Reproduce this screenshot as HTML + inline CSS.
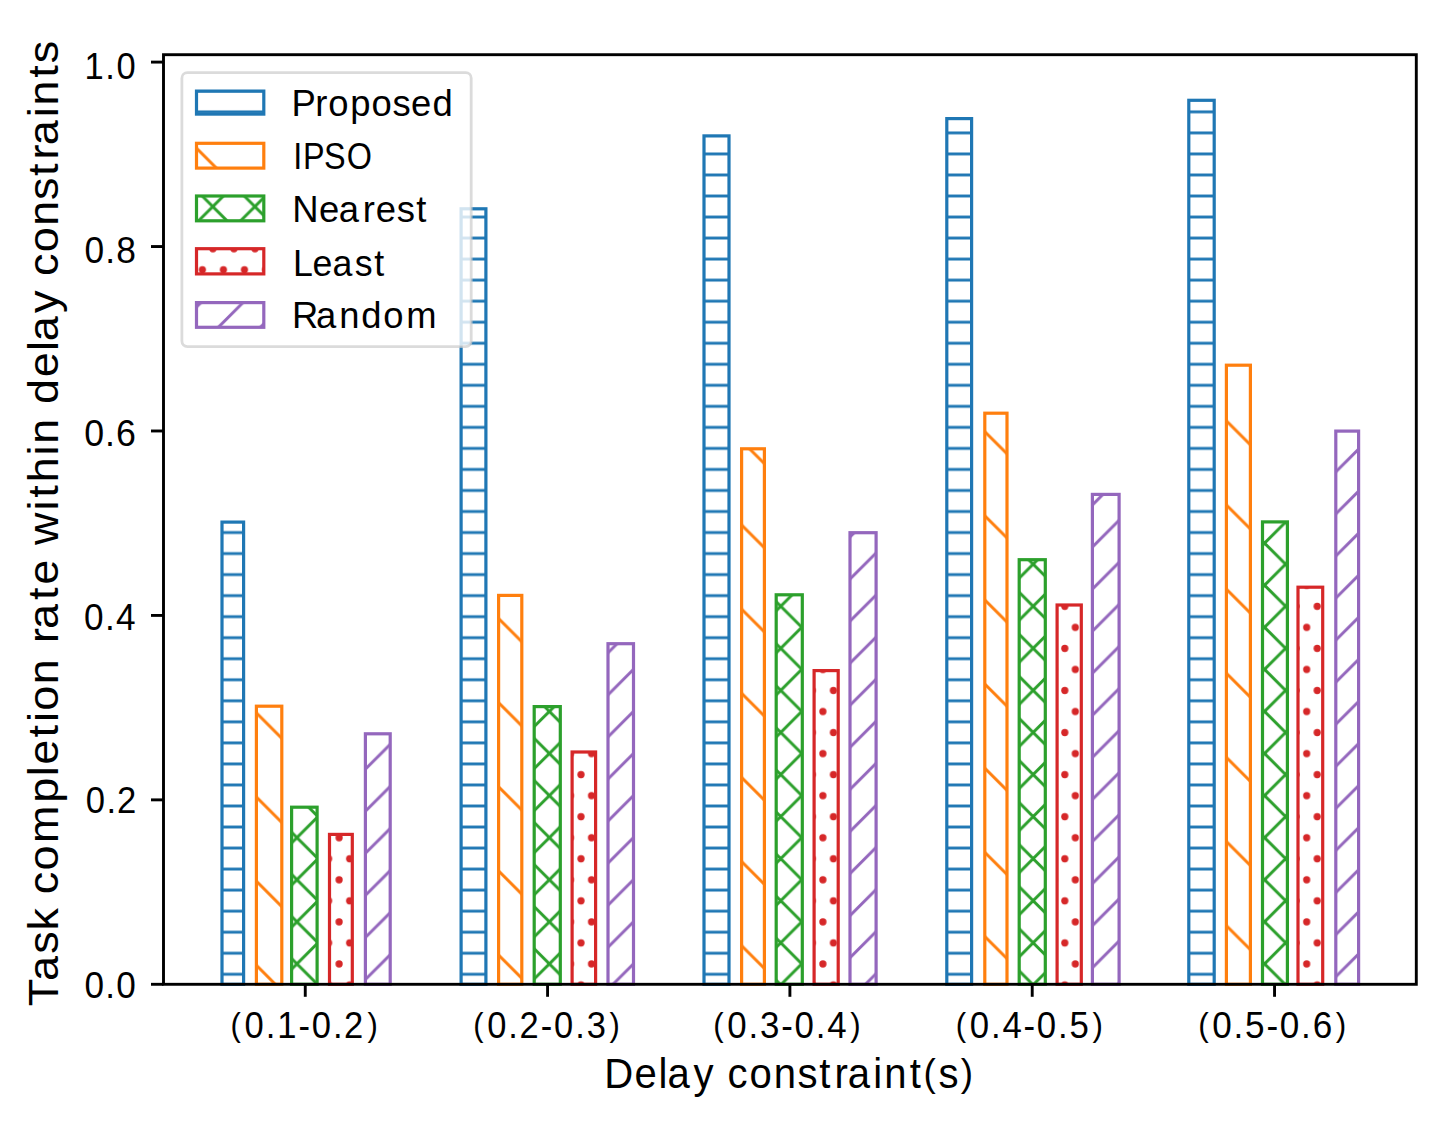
<!DOCTYPE html>
<html><head><meta charset="utf-8"><title>Task completion rate chart</title>
<style>
html,body{margin:0;padding:0;background:#fff;}
body{width:1455px;height:1130px;overflow:hidden;font-family:"Liberation Sans",sans-serif;}
svg{display:block;}
</style></head>
<body>
<svg width="1455" height="1130" viewBox="0 0 1455 1130"><defs><pattern id="hb" patternUnits="userSpaceOnUse" x="0" y="0" width="21.034" height="21.034"><path d="M-5,6.73H26.034" stroke="#1f77b4" stroke-width="3.0"/></pattern><pattern id="ho" patternUnits="userSpaceOnUse" x="0" y="0" width="84.14" height="84.14"><path d="M-288.26,-84.14L-35.84,168.28M-204.12,-84.14L48.30,168.28M-119.98,-84.14L132.44,168.28M-35.84,-84.14L216.58,168.28M48.30,-84.14L300.72,168.28M132.44,-84.14L384.86,168.28M216.58,-84.14L469.00,168.28" stroke="#ff7f0e" stroke-width="3.0"/></pattern><pattern id="hg" patternUnits="userSpaceOnUse" x="0" y="0" width="42.07" height="42.07"><path d="M-43.34,-42.07L-169.55,84.14M-1.27,-42.07L-127.48,84.14M40.80,-42.07L-85.41,84.14M82.87,-42.07L-43.34,84.14M124.94,-42.07L-1.27,84.14M167.01,-42.07L40.80,84.14M209.08,-42.07L82.87,84.14M-162.08,-42.07L-35.87,84.14M-120.01,-42.07L6.20,84.14M-77.94,-42.07L48.27,84.14M-35.87,-42.07L90.34,84.14M6.20,-42.07L132.41,84.14M48.27,-42.07L174.48,84.14M90.34,-42.07L216.55,84.14" stroke="#2ca02c" stroke-width="3.0"/></pattern><pattern id="hr" patternUnits="userSpaceOnUse" x="2.58" y="38.42" width="21.034" height="42.07"><g fill="#d62728"><circle cx="0.00" cy="0.00" r="3.6"/><circle cx="21.03" cy="0.00" r="3.6"/><circle cx="0.00" cy="42.07" r="3.6"/><circle cx="21.03" cy="42.07" r="3.6"/><circle cx="10.52" cy="21.03" r="3.6"/></g></pattern><pattern id="hp" patternUnits="userSpaceOnUse" x="0" y="0" width="42.07" height="42.07"><path d="M-43.34,-42.07L-169.55,84.14M-1.27,-42.07L-127.48,84.14M40.80,-42.07L-85.41,84.14M82.87,-42.07L-43.34,84.14M124.94,-42.07L-1.27,84.14M167.01,-42.07L40.80,84.14M209.08,-42.07L82.87,84.14" stroke="#9467bd" stroke-width="3.0"/></pattern><filter id="bl" x="0" y="0" width="1455" height="1130" filterUnits="userSpaceOnUse"><feGaussianBlur stdDeviation="0"/></filter></defs><rect width="1455" height="1130" fill="#fff"/><g font-family="Liberation Sans, sans-serif" fill="#000"><rect x="222.00" y="522.10" width="21.60" height="462.20" fill="url(#hb)" stroke="#1f77b4" stroke-width="3.2"/>
<rect x="461.10" y="208.80" width="24.80" height="775.50" fill="url(#hb)" stroke="#1f77b4" stroke-width="3.2"/>
<rect x="704.00" y="135.90" width="25.00" height="848.40" fill="url(#hb)" stroke="#1f77b4" stroke-width="3.2"/>
<rect x="946.80" y="118.60" width="24.80" height="865.70" fill="url(#hb)" stroke="#1f77b4" stroke-width="3.2"/>
<rect x="1188.80" y="100.30" width="25.40" height="884.00" fill="url(#hb)" stroke="#1f77b4" stroke-width="3.2"/>
<rect x="256.40" y="706.20" width="25.40" height="278.10" fill="url(#ho)" stroke="#ff7f0e" stroke-width="3.2"/>
<rect x="498.60" y="595.40" width="23.20" height="388.90" fill="url(#ho)" stroke="#ff7f0e" stroke-width="3.2"/>
<rect x="741.60" y="448.80" width="22.80" height="535.50" fill="url(#ho)" stroke="#ff7f0e" stroke-width="3.2"/>
<rect x="984.80" y="413.20" width="22.20" height="571.10" fill="url(#ho)" stroke="#ff7f0e" stroke-width="3.2"/>
<rect x="1226.40" y="365.20" width="24.00" height="619.10" fill="url(#ho)" stroke="#ff7f0e" stroke-width="3.2"/>
<rect x="291.60" y="807.20" width="25.50" height="177.10" fill="url(#hg)" stroke="#2ca02c" stroke-width="3.2"/>
<rect x="534.20" y="706.60" width="26.10" height="277.70" fill="url(#hg)" stroke="#2ca02c" stroke-width="3.2"/>
<rect x="776.20" y="594.80" width="26.10" height="389.50" fill="url(#hg)" stroke="#2ca02c" stroke-width="3.2"/>
<rect x="1019.20" y="559.70" width="26.10" height="424.60" fill="url(#hg)" stroke="#2ca02c" stroke-width="3.2"/>
<rect x="1262.50" y="521.90" width="24.90" height="462.40" fill="url(#hg)" stroke="#2ca02c" stroke-width="3.2"/>
<rect x="329.50" y="834.40" width="22.80" height="149.90" fill="url(#hr)" stroke="#d62728" stroke-width="3.2"/>
<rect x="572.10" y="752.00" width="23.50" height="232.30" fill="url(#hr)" stroke="#d62728" stroke-width="3.2"/>
<rect x="814.10" y="670.60" width="24.10" height="313.70" fill="url(#hr)" stroke="#d62728" stroke-width="3.2"/>
<rect x="1057.10" y="605.00" width="24.20" height="379.30" fill="url(#hr)" stroke="#d62728" stroke-width="3.2"/>
<rect x="1298.00" y="587.20" width="24.70" height="397.10" fill="url(#hr)" stroke="#d62728" stroke-width="3.2"/>
<rect x="365.40" y="733.80" width="24.80" height="250.50" fill="url(#hp)" stroke="#9467bd" stroke-width="3.2"/>
<rect x="608.00" y="643.70" width="25.50" height="340.60" fill="url(#hp)" stroke="#9467bd" stroke-width="3.2"/>
<rect x="850.00" y="532.70" width="26.10" height="451.60" fill="url(#hp)" stroke="#9467bd" stroke-width="3.2"/>
<rect x="1092.40" y="494.40" width="26.70" height="489.90" fill="url(#hp)" stroke="#9467bd" stroke-width="3.2"/>
<rect x="1335.80" y="431.10" width="22.80" height="553.20" fill="url(#hp)" stroke="#9467bd" stroke-width="3.2"/>
<rect x="163.5" y="54.7" width="1252.80" height="929.60" fill="none" stroke="#000" stroke-width="2.9"/>
<path d="M151.00,984.30H163.5" stroke="#000" stroke-width="2.9"/>
<text transform="translate(85.85,997.80) scale(0.9640,1)" x="-1.45 20.10 31.51" y="0" font-size="36.5">0.0</text>
<path d="M151.00,799.86H163.5" stroke="#000" stroke-width="2.9"/>
<text transform="translate(86.97,812.80) scale(0.9487,1)" x="-1.31 20.51 31.72" y="0" font-size="36.5">0.2</text>
<path d="M151.00,615.42H163.5" stroke="#000" stroke-width="2.9"/>
<text transform="translate(85.51,629.50) scale(0.9640,1)" x="-1.45 20.10 31.51" y="0" font-size="36.5">0.4</text>
<path d="M151.00,430.98H163.5" stroke="#000" stroke-width="2.9"/>
<text transform="translate(85.73,445.80) scale(0.9791,1)" x="-1.58 19.72 30.87" y="0" font-size="36.5">0.6</text>
<path d="M151.00,246.54H163.5" stroke="#000" stroke-width="2.9"/>
<text transform="translate(85.91,262.70) scale(0.9687,1)" x="-1.49 19.98 31.31" y="0" font-size="36.5">0.8</text>
<path d="M151.00,62.10H163.5" stroke="#000" stroke-width="2.9"/>
<text transform="translate(87.31,78.60) scale(0.9456,1)" x="-3.01 19.05 30.78" y="0" font-size="36.5">1.0</text>
<path d="M305.26,984.3V996.80" stroke="#000" stroke-width="2.9"/>
<text transform="translate(232.70,1038.40) scale(0.9483,1)" font-size="36.5"><tspan x="-2.29" y="-2.30" font-size="32.70">(</tspan><tspan x="12.44" y="0">0</tspan><tspan x="34.83" y="0">.</tspan><tspan x="46.91" y="0">1</tspan><tspan x="69.27" y="0">-</tspan><tspan x="83.29" y="0">0</tspan><tspan x="105.68" y="0">.</tspan><tspan x="117.45" y="0">2</tspan><tspan x="142.09" y="-2.30" font-size="32.70">)</tspan></text>
<path d="M547.58,984.3V996.80" stroke="#000" stroke-width="2.9"/>
<text transform="translate(475.50,1038.40) scale(0.9446,1)" font-size="36.5"><tspan x="-2.30" y="-2.30" font-size="32.70">(</tspan><tspan x="12.42" y="0">0</tspan><tspan x="34.79" y="0">.</tspan><tspan x="46.55" y="0">2</tspan><tspan x="69.19" y="0">-</tspan><tspan x="83.20" y="0">0</tspan><tspan x="105.57" y="0">.</tspan><tspan x="117.85" y="0">3</tspan><tspan x="141.95" y="-2.30" font-size="32.70">)</tspan></text>
<path d="M789.90,984.3V996.80" stroke="#000" stroke-width="2.9"/>
<text transform="translate(715.50,1038.40) scale(0.9556,1)" font-size="36.5"><tspan x="-2.33" y="-2.30" font-size="32.70">(</tspan><tspan x="12.27" y="0">0</tspan><tspan x="34.53" y="0">.</tspan><tspan x="46.69" y="0">3</tspan><tspan x="68.69" y="0">-</tspan><tspan x="82.57" y="0">0</tspan><tspan x="104.83" y="0">.</tspan><tspan x="116.94" y="0">4</tspan><tspan x="140.97" y="-2.30" font-size="32.70">)</tspan></text>
<path d="M1032.22,984.3V996.80" stroke="#000" stroke-width="2.9"/>
<text transform="translate(957.90,1038.40) scale(0.9529,1)" font-size="36.5"><tspan x="-2.31" y="-2.30" font-size="32.70">(</tspan><tspan x="12.33" y="0">0</tspan><tspan x="34.64" y="0">.</tspan><tspan x="46.80" y="0">4</tspan><tspan x="68.90" y="0">-</tspan><tspan x="82.83" y="0">0</tspan><tspan x="105.14" y="0">.</tspan><tspan x="117.17" y="0">5</tspan><tspan x="141.38" y="-2.30" font-size="32.70">)</tspan></text>
<path d="M1274.54,984.3V996.80" stroke="#000" stroke-width="2.9"/>
<text transform="translate(1200.50,1038.40) scale(0.9619,1)" font-size="36.5"><tspan x="-2.34" y="-2.30" font-size="32.70">(</tspan><tspan x="12.21" y="0">0</tspan><tspan x="34.43" y="0">.</tspan><tspan x="46.37" y="0">5</tspan><tspan x="68.51" y="0">-</tspan><tspan x="82.35" y="0">0</tspan><tspan x="104.57" y="0">.</tspan><tspan x="116.65" y="0">6</tspan><tspan x="140.62" y="-2.30" font-size="32.70">)</tspan></text>
<text transform="translate(607.50,1087.80) scale(0.9545,1)" font-size="42"><tspan x="-3.42" y="0">D</tspan><tspan x="28.25" y="0">e</tspan><tspan x="53.34" y="0">l</tspan><tspan x="62.93" y="0">a</tspan><tspan x="90.11" y="0">y</tspan><tspan x="113.29" y="0"> </tspan><tspan x="125.80" y="0">c</tspan><tspan x="148.73" y="0">o</tspan><tspan x="174.15" y="0">n</tspan><tspan x="199.01" y="0">s</tspan><tspan x="221.86" y="0">t</tspan><tspan x="237.94" y="0">r</tspan><tspan x="251.76" y="0">a</tspan><tspan x="278.43" y="0">i</tspan><tspan x="290.03" y="0">n</tspan><tspan x="316.54" y="0">t</tspan><tspan x="330.99" y="-2.20" font-size="38.64">(</tspan><tspan x="346.71" y="0">s</tspan><tspan x="369.99" y="-2.20" font-size="38.64">)</tspan></text>
<text transform="translate(57.50,1005.60) rotate(-90) scale(1.0718,1)" x="-0.67 23.06 48.34 70.00 92.05 103.99 126.17 151.67 189.30 214.04 224.69 250.19 264.67 275.16 299.76 324.26 338.20 351.43 378.46 392.63 416.77 429.78 461.89 473.79 488.27 513.23 524.23 548.73 561.41 586.33 610.85 619.88 646.26 668.85 680.79 702.97 727.57 751.68 773.94 789.44 802.68 828.75 839.75 865.60 879.30" y="0" font-size="42">Task completion rate within delay constraints</text>
<rect x="181.9" y="72.7" width="289.30" height="273.90" rx="5.5" ry="5.5" fill="#fff" fill-opacity="0.8" stroke="#cccccc" stroke-opacity="0.7" stroke-width="2.8"/>
<rect x="196.5" y="91.10" width="67.30" height="23.00" fill="url(#hb)" stroke="#1f77b4" stroke-width="3.2"/>
<text transform="translate(295.90,115.90) scale(0.9976,1)" x="-4.50 19.36 32.45 54.39 75.90 96.91 115.51 137.01" y="0" font-size="36.5">Proposed</text>
<rect x="196.5" y="143.30" width="67.30" height="24.80" fill="url(#ho)" stroke="#ff7f0e" stroke-width="3.2"/>
<text transform="translate(295.90,169.10) scale(0.8863,1)" x="-3.14 8.04 31.75 57.34" y="0" font-size="36.5">IPSO</text>
<rect x="196.5" y="196.00" width="67.30" height="24.80" fill="url(#hg)" stroke="#2ca02c" stroke-width="3.2"/>
<text transform="translate(295.90,222.30) scale(0.9988,1)" x="-3.62 23.13 43.04 66.85 79.98 100.88 120.43" y="0" font-size="36.5">Nearest</text>
<rect x="196.5" y="248.70" width="67.30" height="25.20" fill="url(#hr)" stroke="#d62728" stroke-width="3.2"/>
<text transform="translate(295.90,275.90) scale(0.9795,1)" x="-3.01 17.05 37.39 60.04 79.92" y="0" font-size="36.5">Least</text>
<rect x="196.5" y="302.60" width="67.30" height="24.70" fill="url(#hp)" stroke="#9467bd" stroke-width="3.2"/>
<text transform="translate(295.90,327.90) scale(0.9970,1)" x="-3.85 20.27 43.56 65.56 87.69 110.59" y="0" font-size="36.5">Random</text></g></svg>
</body></html>
